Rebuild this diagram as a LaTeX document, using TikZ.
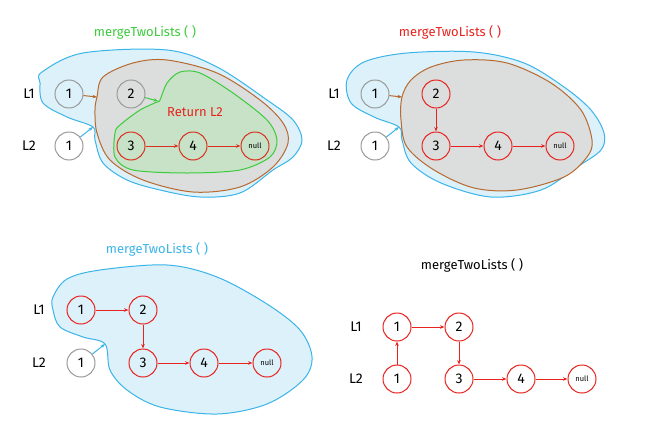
\documentclass[tikz,border=0pt]{standalone}
\usepackage{fontspec}
\setmainfont{Fira Sans}
\usetikzlibrary{arrows.meta}
\definecolor{rd}{HTML}{E8231E}
\definecolor{rdark}{HTML}{D9301F}
\definecolor{bl}{HTML}{3BB4E8}
\definecolor{blfill}{HTML}{DDF1FB}
\definecolor{br}{HTML}{B8692E}
\definecolor{grfill}{HTML}{DCDEDD}
\definecolor{gn}{HTML}{3CCB3C}
\definecolor{gnfill}{HTML}{C7E2C7}
\definecolor{gy}{HTML}{9A9A9A}
\tikzset{
  lnode/.style={circle,draw,minimum size=28pt,inner sep=0pt,line width=1pt,font=\fontsize{14}{16}\selectfont},
  gnode/.style={lnode,draw=gy},
  rnode/.style={lnode,draw=rd},
  nullnode/.style={font=\fontsize{7.5}{9}\selectfont},
  lab/.style={font=\fontsize{14}{16}\selectfont},
  ttl/.style={font=\fontsize{13}{15}\selectfont},
  arr/.style={-{Stealth[length=4.5pt,width=3.5pt]},line width=1pt},
  blob/.style={line width=1pt},
}
\begin{document}
\begin{tikzpicture}[x=1pt,y=-1pt]
\useasboundingbox[fill=white] (0,0) rectangle (647,434);

% ---------------- Panel 1 ----------------
\node[ttl,text=gn] (t1) at (145,32) {mergeTwoLists ( )};
\draw[blob,draw=bl,fill=blfill] plot[smooth cycle,tension=0.55] coordinates {
 (42,72) (83,53) (167,50) (217,67) (267,100) (293,120) (302,140) (293,157)
 (273,170) (240,193) (200,197) (160,190) (127,180) (103,163) (95,140) (93,127)
 (67,117) (43,103) (40,83)};
\draw[blob,draw=br,fill=grfill] plot[smooth cycle,tension=0.55] coordinates {
 (97,97) (103,77) (133,63) (167,60) (217,73) (260,100) (283,123) (288,143)
 (273,167) (240,187) (193,192) (143,180) (110,160) (97,133) (95,110)};
\draw[blob,draw=gn,fill=gnfill] plot[smooth cycle,tension=0.5] coordinates {
 (160,100) (167,83) (180,72) (200,73) (233,93) (267,120) (277,140) (270,157)
 (240,170) (187,173) (133,170) (115,157) (115,133) (120,125) (140,110) (157,102)};
\coordinate (b1) at (93,127);
\coordinate (r1) at (97,97);
\coordinate (g1) at (158,101);
\node[lab] (aL1) at (29,94) {L1};
\node[lab] (aL2) at (29,146) {L2};
\node[gnode] (a1) at (69,94) {1};
\node[gnode] (a1b) at (69,146) {1};
\node[gnode] (a2) at (131,94) {2};
\node[rnode,draw=rdark] (a3) at (131,146) {3};
\node[rnode,draw=rdark] (a4) at (193,146) {4};
\node[rnode,draw=rdark,nullnode] (an) at (255,146) {null};
\node[ttl,text=rd] (ret) at (195,112) {Return L2};
\draw[arr,rdark] (a3) -- (a4);
\draw[arr,rdark] (a4) -- (an);
\draw[arr,br] (a1) -- (r1);
\draw[arr,bl] (a1b) -- (b1);
\draw[arr,gn] (a2) -- (g1);

% ---------------- Panel 2 ----------------
\node[ttl,text=rd] (t2) at (450,32) {mergeTwoLists ( )};
\draw[blob,draw=bl,fill=blfill] plot[smooth cycle,tension=0.55] coordinates {
 (347,80) (364,62) (407,53) (474,52) (524,63) (564,87) (591,110) (604,133)
 (601,150) (577,167) (541,190) (491,197) (441,183) (411,163) (402,140) (399,127)
 (374,117) (351,103)};
\draw[blob,draw=br,fill=grfill] plot[smooth cycle,tension=0.55] coordinates {
 (402,97) (411,80) (431,67) (464,60) (507,63) (551,83) (581,110) (592,140)
 (587,157) (564,177) (517,190) (474,188) (434,170) (407,147) (401,120)};
\coordinate (b2) at (399,127);
\coordinate (r2) at (402,97);
\node[lab] (bL1) at (334,94) {L1};
\node[lab] (bL2) at (334,146) {L2};
\node[gnode] (b1n) at (375,94) {1};
\node[gnode] (b1b) at (375,146) {1};
\node[rnode] (b2n) at (436,94) {2};
\node[rnode] (b3) at (436,146) {3};
\node[rnode] (b4) at (498,146) {4};
\node[rnode,nullnode] (bn) at (560,146) {null};
\draw[arr,rd] (b2n) -- (b3);
\draw[arr,rd] (b3) -- (b4);
\draw[arr,rd] (b4) -- (bn);
\draw[arr,br] (b1n) -- (r2);
\draw[arr,bl] (b1b) -- (b2);

% ---------------- Panel 3 ----------------
\node[ttl,text=bl] (t3) at (157,249) {mergeTwoLists ( )};
\draw[blob,draw=bl,fill=blfill] plot[smooth cycle,tension=0.55] coordinates {
 (53,297) (67,279) (100,270) (167,265) (217,277) (267,304) (300,330) (312,357)
 (303,380) (267,404) (217,414) (160,407) (127,390) (110,370) (105,344)
 (83,337) (60,327) (53,310)};
\coordinate (b3c) at (105,344);
\node[lab] (cL1) at (39,310) {L1};
\node[lab] (cL2) at (39,363) {L2};
\node[rnode] (c1) at (81,310) {1};
\node[gnode] (c1b) at (81,363) {1};
\node[rnode] (c2) at (143,310) {2};
\node[rnode] (c3) at (143,363) {3};
\node[rnode] (c4) at (204,363) {4};
\node[rnode,nullnode] (cn) at (267,363) {null};
\draw[arr,rd] (c1) -- (c2);
\draw[arr,rd] (c2) -- (c3);
\draw[arr,rd] (c3) -- (c4);
\draw[arr,rd] (c4) -- (cn);
\draw[arr,bl] (c1b) -- (b3c);

% ---------------- Panel 4 ----------------
\node[ttl] (t4) at (472,265) {mergeTwoLists ( )};
\node[lab] (dL1) at (356,327) {L1};
\node[lab] (dL2) at (356,379) {L2};
\node[rnode] (d1) at (397,327) {1};
\node[rnode] (d1b) at (397,379) {1};
\node[rnode] (d2) at (459,327) {2};
\node[rnode] (d3) at (459,379) {3};
\node[rnode] (d4) at (521,379) {4};
\node[rnode,nullnode] (dn) at (582,379) {null};
\draw[arr,rd] (d1b) -- (d1);
\draw[arr,rd] (d1) -- (d2);
\draw[arr,rd] (d2) -- (d3);
\draw[arr,rd] (d3) -- (d4);
\draw[arr,rd] (d4) -- (dn);
\end{tikzpicture}
\end{document}
